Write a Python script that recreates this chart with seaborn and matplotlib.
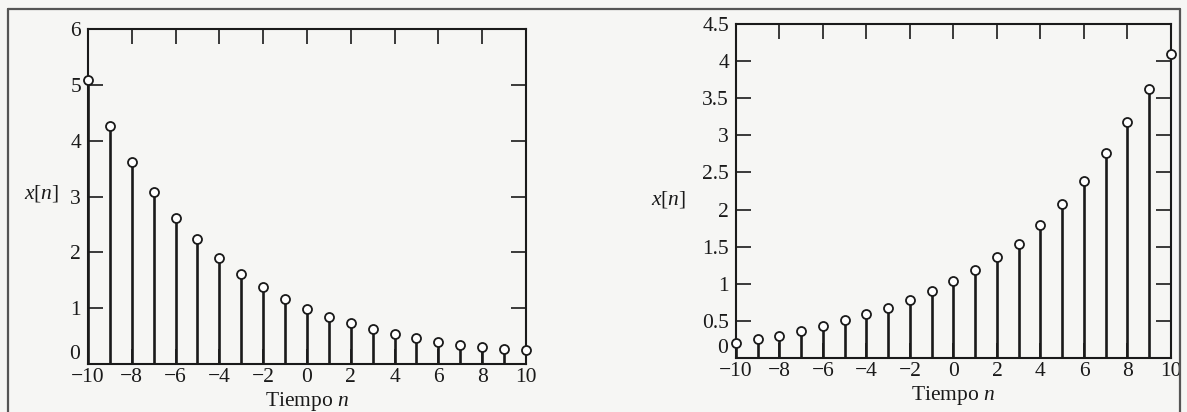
import numpy as np
import pandas as pd
import matplotlib
matplotlib.use("Agg")
import matplotlib.pyplot as plt
import matplotlib.transforms as mtransforms
from matplotlib.lines import Line2D
import seaborn as sns

# Sample index n
n = list(range(-10, 11))

# Decaying sequence (left panel)
x_decay = [5.08, 4.27, 3.61, 3.08, 2.62, 2.23, 1.90, 1.62, 1.38, 1.17, 0.99,
           0.85, 0.73, 0.62, 0.53, 0.46, 0.40, 0.34, 0.30, 0.26, 0.25]

# Growing sequence (right panel)
x_grow = [0.20, 0.25, 0.30, 0.36, 0.43, 0.51, 0.59, 0.68, 0.78, 0.90, 1.04,
          1.19, 1.36, 1.54, 1.79, 2.08, 2.39, 2.76, 3.18, 3.62, 4.09]

x_ticks = [-10, -8, -6, -4, -2, 0, 2, 4, 6, 8, 10]
y_ticks_left = [0, 1, 2, 3, 4, 5, 6]
y_ticks_right = [0, 0.5, 1, 1.5, 2, 2.5, 3, 3.5, 4, 4.5]
y_ticklabels_right = ["0", "0.5", "1", "1.5", "2", "2.5", "3", "3.5", "4", "4.5"]

sns.set_theme(style="ticks")
plt.rcParams["font.family"] = ["Liberation Serif", "DejaVu Serif"]
plt.rcParams["mathtext.fontset"] = "custom"
plt.rcParams["mathtext.it"] = "Liberation Serif:italic"
plt.rcParams["mathtext.rm"] = "Liberation Serif"

bg = "#f6f6f4"
ink = "#1a1a1a"
fs = 15.5
fig = plt.figure(figsize=(11.87, 4.12), dpi=100, facecolor=bg)

ax1 = fig.add_axes([0.0741, 0.1165, 0.3690, 0.8131])
ax2 = fig.add_axes([0.6200, 0.1310, 0.3665, 0.8107])


def stem_panel(ax, values, ymax, yticks, yticklabels, ylabel_x, ylabel_y):
    df = pd.DataFrame({"n": n, "x": values})
    ax.set_facecolor(bg)
    ax.vlines(df["n"], 0, df["x"], color=ink, linewidth=1.9, zorder=2)
    ax.axhline(0, color=ink, linewidth=1.8, zorder=2)
    sns.scatterplot(data=df, x="n", y="x", ax=ax, s=42, marker="o",
                    facecolor="white", edgecolor=ink, linewidth=1.3,
                    zorder=3, legend=False, clip_on=False)
    ax.set_xlim(-10, 10)
    ax.set_ylim(0, ymax)
    ax.set_xticks(x_ticks)
    ax.set_xticklabels([str(t).replace("-", "\u2212") for t in x_ticks])
    ax.set_yticks(yticks)
    # the zero label is placed separately, resting just above the x labels
    ax.set_yticklabels([""] + list(yticklabels[1:]))
    trans = mtransforms.blended_transform_factory(ax.transAxes, ax.transData)
    ax.text(-0.018, 0, yticklabels[0], transform=trans, ha="right",
            va="bottom", fontsize=fs, color=ink)
    ax.tick_params(direction="in", length=11, width=1.2, top=True, right=True,
                   labelsize=fs, colors=ink)
    ax.tick_params(axis="x", pad=3)
    ax.tick_params(axis="y", pad=5)
    for s in ax.spines.values():
        s.set_visible(True)
        s.set_color(ink)
        s.set_linewidth(1.5)
    ax.set_xlabel("Tiempo $n$", fontsize=fs, color=ink, labelpad=2)
    ax.set_ylabel("$x$[$n$]", fontsize=fs, color=ink, rotation=0,
                  va="center", ha="center")
    ax.yaxis.set_label_coords(ylabel_x, ylabel_y)


stem_panel(ax1, x_decay, 6, y_ticks_left, [str(t) for t in y_ticks_left],
           -0.105, 0.51)
stem_panel(ax2, x_grow, 4.5, y_ticks_right, y_ticklabels_right,
           -0.155, 0.475)

# Page frame
for xs, ys in [([0.007, 0.007], [0.0, 0.978]),
               ([0.007, 0.994], [0.978, 0.978]),
               ([0.994, 0.994], [0.978, 0.0])]:
    fig.add_artist(Line2D(xs, ys, transform=fig.transFigure,
                          color="#555555", linewidth=1.6))

fig.savefig("out.png", dpi=100, facecolor=bg)
